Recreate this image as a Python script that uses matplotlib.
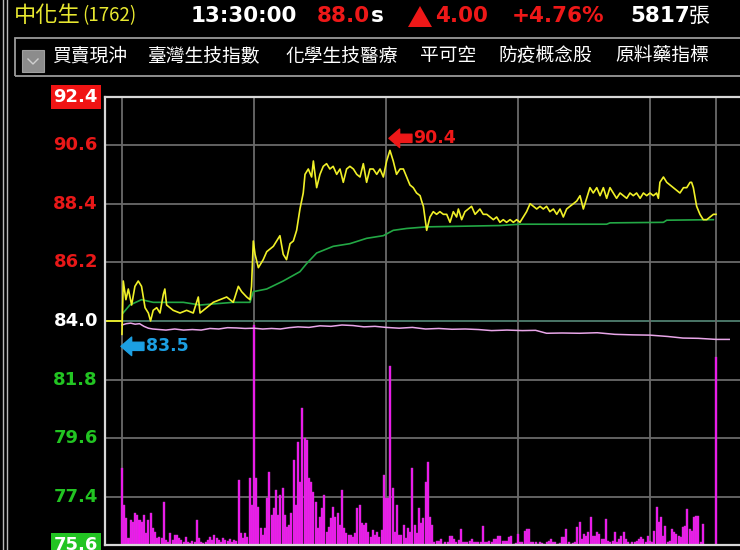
import matplotlib
matplotlib.use('Agg')
import matplotlib.pyplot as plt
from matplotlib.patches import Polygon, Rectangle
from matplotlib.lines import Line2D
from matplotlib.transforms import offset_copy

CJK = ['Noto Sans CJK TC', 'DejaVu Sans']

# --- quote header ---
stock_name = '中化生'
stock_code = '(1762)'
quote_time = '13:30:00'
last_price = 88.0
change = 4.00
change_pct = 4.76
total_lots = 5817
ref_price = 84.0
tabs = ['買賣現沖', '臺灣生技指數', '化學生技醫療', '平可空', '防疫概念股', '原料藥指標']

# --- axis levels (minutes from 09:00) ---
price_levels = [92.4, 90.6, 88.4, 86.2, 84.0, 81.8, 79.6, 77.4, 75.6]
hour_marks = [0, 60, 120, 180, 240, 270]

# --- trade price (yellow) ---
price_min = [
    0, 0.6, 1.8, 2.9, 4.4, 5.9, 7.4, 8.9, 10.5, 12.0,
    13.0, 14.2, 15.8, 17.3, 18.8, 19.5, 20.3, 21.8, 23.3, 26.4,
    29.4, 32.4, 34.7, 35.5, 38.5, 41.5, 44.5, 47.6, 50.6, 52.9,
    54.4, 56.7, 58.2, 58.9, 59.7, 60.5, 62.0, 64.2, 65.8, 67.3,
    68.8, 70.3, 71.8, 73.3, 74.8, 76.4, 77.9, 79.4, 80.9, 82.4,
    83.2, 84.7, 86.2, 87.0, 88.5, 90.0, 91.5, 93.0, 94.5, 96.0,
    97.6, 99.1, 100.6, 102.1, 103.6, 105.2, 106.7, 108.2, 109.7, 111.2,
    112.7, 114.2, 115.8, 117.3, 118.8, 120.3, 121.8, 123.3, 124.8, 126.4,
    127.9, 129.4, 130.9, 132.4, 133.9, 135.5, 136.2, 137.0, 138.5, 140.0,
    141.5, 143.0, 144.5, 146.1, 147.6, 149.1, 150.6, 152.1, 152.9, 154.4,
    155.9, 157.4, 158.9, 160.5, 162.7, 164.2, 165.8, 167.3, 168.8, 170.3,
    171.8, 173.3, 174.8, 176.4, 177.9, 179.4, 180.9, 182.4, 183.9, 185.5,
    187.0, 188.5, 190.0, 191.5, 193.0, 194.5, 196.1, 197.6, 199.1, 200.6,
    202.1, 203.6, 205.2, 206.7, 208.2, 209.7, 211.2, 212.7, 214.2, 215.8,
    217.3, 218.8, 220.3, 221.8, 223.3, 224.8, 226.4, 227.9, 229.4, 230.9,
    232.4, 233.9, 235.5, 237.0, 238.5, 240.0, 241.5, 243.0, 243.8, 244.5,
    246.1, 247.6, 249.1, 250.6, 252.1, 253.6, 255.2, 256.7, 258.2, 258.9,
    259.7, 261.2, 262.7, 264.2, 265.8, 267.3, 268.8, 270.0]
price_val = [
    83.5, 85.5, 84.8, 85.2, 84.6, 85.3, 85.5, 85.3, 84.5, 84.3,
    84.0, 84.4, 84.5, 84.3, 85.0, 85.2, 84.6, 84.5, 84.4, 84.3,
    84.4, 84.3, 84.9, 84.3, 84.5, 84.7, 84.8, 84.9, 84.7, 85.3,
    85.1, 84.9, 84.8, 85.3, 87.0, 86.5, 86.0, 86.3, 86.6, 86.7,
    86.8, 87.0, 87.2, 86.5, 86.3, 86.9, 87.0, 87.4, 88.2, 88.8,
    89.5, 89.7, 89.4, 90.0, 89.0, 89.5, 89.8, 89.9, 89.7, 89.8,
    89.5, 89.7, 89.2, 89.7, 89.8, 89.7, 89.5, 89.4, 89.9, 89.2,
    89.7, 89.7, 89.5, 89.7, 89.4, 90.0, 90.4, 90.0, 89.5, 89.7,
    89.7, 89.4, 89.1, 89.0, 88.8, 88.7, 88.5, 88.3, 87.4, 87.9,
    88.1, 88.0, 88.1, 88.0, 88.0, 87.7, 88.1, 87.9, 88.2, 87.8,
    88.1, 88.2, 88.3, 88.0, 88.2, 88.0, 88.0, 87.9, 87.8, 87.9,
    87.7, 87.8, 87.7, 87.8, 87.7, 87.8, 87.7, 87.9, 88.1, 88.4,
    88.3, 88.2, 88.3, 88.2, 88.3, 88.1, 88.2, 88.0, 88.2, 87.9,
    88.2, 88.3, 88.4, 88.5, 88.7, 88.2, 88.6, 89.0, 88.8, 89.0,
    88.7, 89.0, 88.6, 89.0, 88.8, 88.6, 88.8, 88.7, 88.6, 88.8,
    88.7, 88.8, 88.6, 88.8, 88.7, 88.8, 88.7, 88.8, 88.6, 89.2,
    89.4, 89.2, 89.1, 89.0, 88.9, 88.8, 89.0, 89.0, 89.2, 89.2,
    89.0, 88.3, 88.0, 87.8, 87.8, 87.9, 88.0, 88.0]

# --- average price (green) ---
avg_min = [0.5, 3.6, 8.9, 14.2, 27.9, 35.5, 50.6, 58.2, 59.7, 65.8, 73.3, 80.9,
           83.9, 88.5, 96.0, 103.6, 111.2, 118.8, 123.3, 129.4, 138.5, 171.8,
           180.9, 220.3, 221.8, 246.1, 247.6, 268.8]
avg_val = [84.3, 84.6, 84.8, 84.7, 84.7, 84.6, 84.7, 84.7, 85.1, 85.2, 85.5, 85.85,
           86.15, 86.55, 86.8, 86.9, 87.1, 87.2, 87.4, 87.47, 87.53, 87.58,
           87.63, 87.63, 87.68, 87.7, 87.78, 87.8]

# --- second line (pink) ---
pink_min = [0, 2, 4, 6, 8, 10, 12, 14, 17, 20, 24, 28, 32, 36, 40, 44, 48, 52, 56, 60,
            64, 68, 72, 76, 80, 85, 90, 95, 100, 105, 110, 115, 120, 126, 132, 138, 144,
            150, 156, 162, 168, 175, 182, 188, 193, 200, 208, 216, 224, 232, 240, 248,
            255, 262, 270, 276]
pink_val = [83.85, 83.90, 83.92, 83.88, 83.90, 83.80, 83.73, 83.70, 83.68, 83.66,
            83.70, 83.66, 83.68, 83.66, 83.72, 83.70, 83.75, 83.74, 83.72, 83.73,
            83.70, 83.72, 83.70, 83.75, 83.78, 83.76, 83.82, 83.80, 83.85, 83.83,
            83.78, 83.80, 83.76, 83.73, 83.76, 83.70, 83.72, 83.69, 83.70, 83.68,
            83.64, 83.66, 83.64, 83.65, 83.54, 83.55, 83.54, 83.56, 83.50, 83.48,
            83.47, 83.42, 83.36, 83.35, 83.31, 83.31]

# --- volume per minute (lots), minute 0..270 ---
volume = [
    77, 40, 27, 7, 25, 23, 32, 30, 25, 23,
    30, 12, 25, 32, 17, 13, 7, 8, 7, 43,
    5, 3, 12, 5, 10, 10, 7, 5, 3, 8,
    3, 2, 4, 3, 25, 7, 3, 2, 3, 5,
    8, 5, 10, 7, 5, 3, 7, 5, 4, 6,
    3, 5, 4, 65, 12, 7, 12, 8, 67, 40,
    221, 67, 38, 17, 10, 17, 47, 73, 30, 37,
    55, 30, 50, 57, 30, 18, 20, 32, 85, 40,
    103, 63, 138, 107, 105, 67, 63, 53, 43, 17,
    28, 37, 50, 13, 18, 27, 38, 28, 32, 20,
    55, 17, 12, 10, 10, 8, 12, 37, 40, 22,
    20, 22, 13, 8, 15, 10, 13, 8, 15, 70,
    47, 47, 180, 57, 13, 40, 10, 10, 20, 7,
    17, 13, 77, 20, 12, 37, 22, 27, 63, 83,
    28, 20, 3, 4, 4, 6, 1, 3, 3, 9,
    9, 6, 3, 5, 16, 3, 3, 3, 4, 6,
    3, 3, 3, 3, 19, 3, 3, 4, 3, 6,
    6, 9, 9, 4, 4, 4, 8, 9, 1, 2,
    11, 3, 3, 14, 16, 16, 3, 3, 3, 1,
    3, 2, 1, 3, 4, 6, 3, 3, 1, 2,
    8, 8, 16, 3, 1, 2, 3, 18, 23, 6,
    11, 9, 13, 28, 9, 9, 13, 11, 6, 6,
    26, 4, 3, 4, 13, 3, 6, 9, 13, 6,
    3, 1, 3, 3, 4, 6, 8, 6, 3, 9,
    4, 3, 14, 38, 23, 28, 9, 19, 3, 4,
    16, 13, 11, 9, 8, 18, 19, 36, 16, 14,
    28, 29, 29, 3, 21, 0, 0, 0, 0, 0,
    189]
vol_min = list(range(len(volume)))

W, H = 740, 550


def fx(px):
    return px / W


def fy(py):
    return 1 - py / H


fig = plt.figure(figsize=(7.4, 5.5), dpi=100, facecolor='black')

rect = [fx(105), fy(545), fx(740) - fx(105), fy(97) - fy(545)]
x_lim = (-7.7, 280.9)

# volume layer (bottom) with grid
vax = fig.add_axes(rect, facecolor='black')
vax.set_xlim(*x_lim)
vax.set_ylim(0, 450)
for lv in price_levels[1:-1]:
    y = (lv - price_levels[-1]) / (price_levels[0] - price_levels[-1]) * 450
    col = '#4f7f6f' if lv == ref_price else '#6a6a6a'
    vax.axhline(y, color=col, lw=1.3, zorder=0)
for h in hour_marks:
    vax.axvline(h, color='#6a6a6a', lw=1.3, zorder=0)
vax.bar(vol_min, volume, width=0.95, color='#f414f4', edgecolor='#c040c0',
        linewidth=0.3, zorder=2)
vax.set_xticks([])
vax.set_yticks([])
for s in vax.spines.values():
    s.set_visible(False)

# price layer (top)
ax = fig.add_axes(rect, facecolor='none')
ax.set_xlim(*x_lim)
ax.set_ylim(price_levels[-1], price_levels[0])
ax.set_xticks([])
ax.set_yticks([])
ax.spines['right'].set_visible(False)
for side in ['left', 'top', 'bottom']:
    ax.spines[side].set_color('#d8d8d8')
    ax.spines[side].set_linewidth(1.6)

ax.plot([x_lim[0], 0], [ref_price, ref_price], color='#f0f028', lw=1.3)
ax.plot(pink_min, pink_val, color='#e9a6e9', lw=1.1)
ax.plot(avg_min, avg_val, color='#23a845', lw=1.2)
ax.plot(price_min, price_val, color='#f0f028', lw=1.2)

# price labels on the left
for lv in price_levels:
    if lv > ref_price:
        col = '#e81818'
    elif lv < ref_price:
        col = '#22c422'
    else:
        col = 'white'
    kw = {}
    if lv == price_levels[0]:
        kw['bbox'] = dict(boxstyle='square,pad=0.15', facecolor='#f01414', edgecolor='none')
        col = 'white'
    elif lv == price_levels[-1]:
        kw['bbox'] = dict(boxstyle='square,pad=0.15', facecolor='#22c422', edgecolor='none')
        col = 'white'
    ax.text(-7 / 635, lv, f'{lv:.1f}', transform=ax.get_yaxis_transform(),
            ha='right', va='center', color=col, fontsize=13, fontweight='bold',
            family='DejaVu Sans', **kw)

# high / low markers: thick arrow + value
hi = max(price_val)
t_hi = price_min[price_val.index(hi)]
lo = min(price_val)
t_lo = price_min[price_val.index(lo)]
for t0, v0, dy, col in [(t_hi, hi, 12, '#ee1818'), (t_lo, lo, -12, '#1c9fe2')]:
    tip = offset_copy(ax.transData, fig=fig, x=-1, y=dy, units='dots')
    tail = offset_copy(ax.transData, fig=fig, x=22, y=dy, units='dots')
    ax.annotate('', xy=(t0, v0), xycoords=tip, xytext=(t0, v0), textcoords=tail,
                arrowprops=dict(arrowstyle='simple,head_length=0.55,head_width=0.95,'
                                           'tail_width=0.42',
                                color=col, mutation_scale=14, shrinkA=0, shrinkB=0))
    ax.annotate(f'{v0:.1f}', xy=(t0, v0), xytext=(17, dy / 1.39),
                textcoords='offset points', ha='left', va='center', color=col,
                fontsize=12.5, fontweight='bold', family='DejaVu Sans')

# --- frame and header ---
for px in (3, 7):
    fig.add_artist(Line2D([fx(px), fx(px)], [0, 1], color='#b8b8b8', lw=1.0))

fig.add_artist(Rectangle((fx(15), fy(76)), 1.0, fy(38) - fy(76), fill=False,
                         edgecolor='#9a9a9a', lw=1.3, transform=fig.transFigure))
fig.add_artist(Rectangle((fx(22), fy(72)), fx(44) - fx(22), fy(50) - fy(72),
                         facecolor='#8c8c8c', edgecolor='#a0a0a0', lw=0.8,
                         transform=fig.transFigure))
fig.add_artist(Line2D([fx(28), fx(33), fx(38)], [fy(59), fy(64), fy(59)],
                      color='#d0d0d0', lw=1.0))

yh = fy(16)
fig.text(fx(14), yh, stock_name, color='#e8e830', fontsize=16, family=CJK, va='center')
fig.text(fx(82), yh, stock_code, color='#e8e830', fontsize=13.5, family=CJK, va='center')
fig.text(fx(191), yh, quote_time, color='white', fontsize=15.5, fontweight='bold',
         family='DejaVu Sans', va='center')
fig.text(fx(317), yh, f'{last_price:.1f}', color='#ee1818', fontsize=15.5,
         fontweight='bold', family='DejaVu Sans', va='center')
fig.text(fx(371), yh, 's', color='white', fontsize=15.5, fontweight='bold',
         family='DejaVu Sans', va='center')
fig.add_artist(Polygon([(fx(408), fy(27)), (fx(432), fy(27)), (fx(420), fy(6))],
                       closed=True, facecolor='#ee1818', edgecolor='none',
                       transform=fig.transFigure))
fig.text(fx(435), yh, f'{change:.2f}', color='#ee1818', fontsize=15.5,
         fontweight='bold', family='DejaVu Sans', va='center')
fig.text(fx(512), yh, f'+{change_pct:.2f}%', color='#ee1818', fontsize=15.5,
         fontweight='bold', family='DejaVu Sans', va='center')
fig.text(fx(630), yh, f'{total_lots}', color='white', fontsize=15.5,
         fontweight='bold', family='DejaVu Sans', va='center')
fig.text(fx(689), yh, '張', color='white', fontsize=15, family=CJK, va='center')

tab_x = [52, 148, 285, 420, 498, 615]
for name, px in zip(tabs, tab_x):
    fig.text(fx(px), fy(56), name, color='white', fontsize=13.5, family=CJK, va='center')

fig.savefig('out.png', dpi=100, facecolor='black')
